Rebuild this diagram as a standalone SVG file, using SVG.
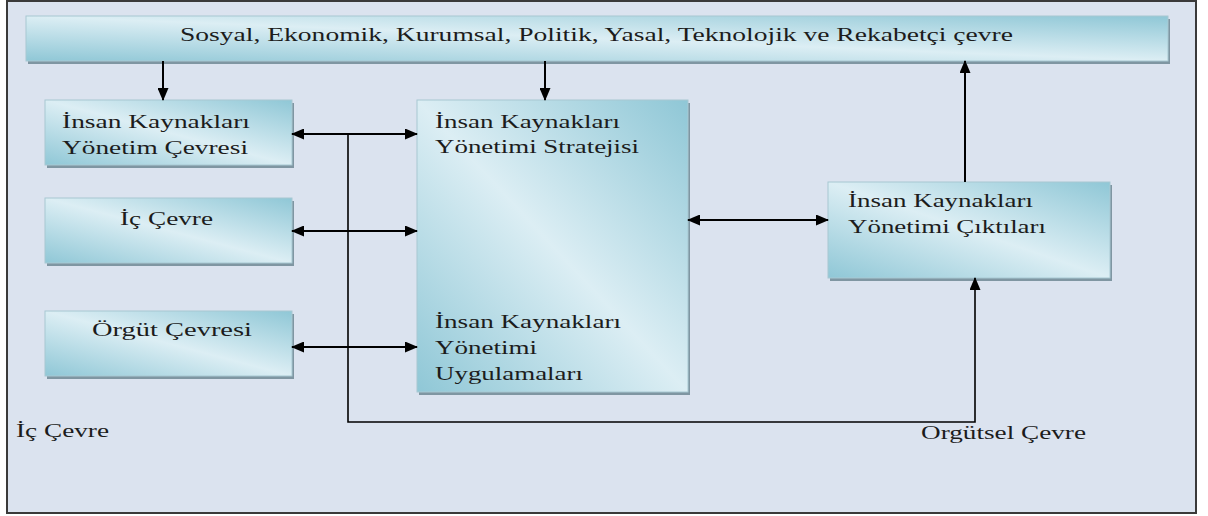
<svg xmlns="http://www.w3.org/2000/svg" width="1208" height="516" viewBox="0 0 1208 516">
<style>
.box{fill:url(#g);stroke:#a8c8d2;stroke-width:1}
.sh{fill:#7f96a2}
.t{font-family:"Liberation Serif","Times New Roman",serif;font-size:18.5px;fill:#1c1c1c}
.c{fill:none;stroke:#000;stroke-width:2}
.c2{fill:none;stroke:#000;stroke-width:1.6}
</style>
<defs>
<linearGradient id="g" x1="1" y1="0" x2="0" y2="1">
<stop offset="0" stop-color="#8fc7d6"/>
<stop offset="0.5" stop-color="#dceef4"/>
<stop offset="1" stop-color="#8fc7d6"/>
</linearGradient>
<marker id="a" viewBox="0 0 13 11" refX="12" refY="5.5" markerWidth="13" markerHeight="11" markerUnits="userSpaceOnUse" orient="auto-start-reverse">
<path d="M0,0 L13,5.5 L0,11 Z" fill="#000"/>
</marker>
</defs>
<rect x="7" y="1" width="1189" height="512" fill="#dbe3ef" stroke="#3a3a3a" stroke-width="2"/>

<g id="top">
<rect class="sh" x="28" y="19" width="1142" height="45"/>
<rect class="box" x="26" y="16" width="1142" height="45"/>
<text class="t" x="180" y="41" textLength="833" lengthAdjust="spacingAndGlyphs">Sosyal, Ekonomik, Kurumsal, Politik, Yasal, Teknolojik ve Rekabetçi çevre</text>
</g>

<g id="ikyc">
<rect class="sh" x="47" y="103" width="247" height="65"/>
<rect class="box" x="45" y="100" width="247" height="65"/>
<text class="t" x="62" y="128" textLength="188" lengthAdjust="spacingAndGlyphs">İnsan Kaynakları</text>
<text class="t" x="62" y="154" textLength="186" lengthAdjust="spacingAndGlyphs">Yönetim Çevresi</text>
</g>

<g id="iccevre">
<rect class="sh" x="47" y="201" width="247" height="65"/>
<rect class="box" x="45" y="198" width="247" height="65"/>
<text class="t" x="120" y="225" textLength="93" lengthAdjust="spacingAndGlyphs">İç Çevre</text>
</g>

<g id="orgut">
<rect class="sh" x="47" y="314" width="247" height="65"/>
<rect class="box" x="45" y="311" width="247" height="65"/>
<text class="t" x="92" y="336" textLength="160" lengthAdjust="spacingAndGlyphs">Örgüt Çevresi</text>
</g>

<g id="strateji">
<rect class="sh" x="419" y="103" width="271" height="292"/>
<rect class="box" x="417" y="100" width="271" height="292"/>
<text class="t" x="435" y="128" textLength="185" lengthAdjust="spacingAndGlyphs">İnsan Kaynakları</text>
<text class="t" x="435" y="153" textLength="204" lengthAdjust="spacingAndGlyphs">Yönetimi Stratejisi</text>
<text class="t" x="435" y="328" textLength="186" lengthAdjust="spacingAndGlyphs">İnsan Kaynakları</text>
<text class="t" x="435" y="354" textLength="102" lengthAdjust="spacingAndGlyphs">Yönetimi</text>
<text class="t" x="435" y="380" textLength="148" lengthAdjust="spacingAndGlyphs">Uygulamaları</text>
</g>

<g id="ciktilar">
<rect class="sh" x="830" y="185" width="282" height="96"/>
<rect class="box" x="828" y="182" width="282" height="96"/>
<text class="t" x="848" y="207" textLength="185" lengthAdjust="spacingAndGlyphs">İnsan Kaynakları</text>
<text class="t" x="848" y="233" textLength="198" lengthAdjust="spacingAndGlyphs">Yönetimi Çıktıları</text>
</g>

<g id="labels">
<text class="t" x="16" y="437" textLength="93" lengthAdjust="spacingAndGlyphs">İç Çevre</text>
<text class="t" x="921" y="439" textLength="165" lengthAdjust="spacingAndGlyphs">Orgütsel Çevre</text>
</g>

<g id="connectors">
<path class="c" d="M163,61 V100" marker-end="url(#a)"/>
<path class="c" d="M545,61 V100" marker-end="url(#a)"/>
<path class="c" d="M965,182 V61" marker-end="url(#a)"/>
<path class="c" d="M292,134 H417" marker-start="url(#a)" marker-end="url(#a)"/>
<path class="c" d="M292,231 H417" marker-start="url(#a)" marker-end="url(#a)"/>
<path class="c" d="M292,347 H417" marker-start="url(#a)" marker-end="url(#a)"/>
<path class="c" d="M688,220 H828" marker-start="url(#a)" marker-end="url(#a)"/>
<path class="c2" d="M348,134 V422 H975 V278" marker-end="url(#a)"/>
</g>
</svg>
